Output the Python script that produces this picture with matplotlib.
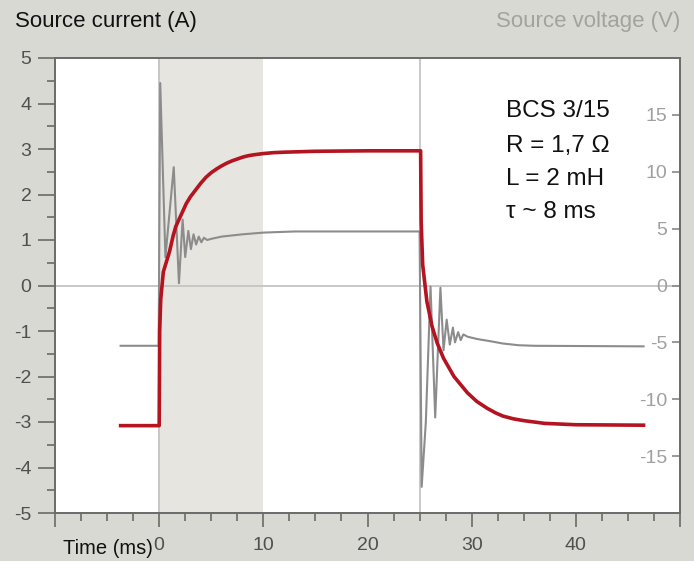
import matplotlib
matplotlib.use("Agg")
import matplotlib.pyplot as plt
from matplotlib.ticker import MultipleLocator, FixedLocator

plt.rcParams['font.family'] = ['Liberation Sans', 'DejaVu Sans']
plt.rcParams['axes.unicode_minus'] = False

# ---- data ----
# Source current (A)
t_cur = [-3.7, 0.0, 0.05, 0.15, 0.4, 0.8, 1.0, 1.35, 1.6, 1.9, 2.3, 2.6, 3.0, 3.5, 4.0, 4.5,
         5.0, 5.5, 6.0, 6.5, 7.0, 7.5, 8.0, 8.5, 9.0, 10.0, 11.0, 12.0, 15.0, 20.0,
         25.1, 25.15, 25.3, 25.7, 26.2, 26.7, 27.3, 28.3, 29.6, 30.5, 31.5, 32.3,
         33.0, 34.0, 35.0, 36.0, 37.0, 38.0, 40.0, 46.5]
i_cur = [-3.08, -3.08, -1.0, -0.3, 0.3, 0.6, 0.75, 1.1, 1.3, 1.45, 1.65, 1.8, 1.95, 2.1, 2.25, 2.38,
         2.48, 2.56, 2.63, 2.69, 2.74, 2.78, 2.82, 2.85, 2.87, 2.9, 2.92, 2.93, 2.95, 2.96,
         2.96, 1.4, 0.45, -0.35, -0.9, -1.27, -1.6, -2.0, -2.36, -2.55, -2.7, -2.8,
         -2.87, -2.93, -2.97, -3.0, -3.03, -3.04, -3.06, -3.07]

# Source voltage (V)
t_volt = [-3.7, -0.05, 0.1, 0.6, 1.4, 1.9, 2.25, 2.5, 2.8, 3.05, 3.3, 3.55, 3.8, 4.05, 4.3,
          4.6, 5.0, 6.0, 7.0, 8.0, 10.0, 13.0, 25.0, 25.2, 25.6, 26.05, 26.5, 27.0, 27.3, 27.6,
          27.9, 28.2, 28.4, 28.7, 28.95, 29.2, 29.6, 30.5, 31.8, 33.0, 34.5, 36.0, 46.5]
v_volt = [-5.3, -5.3, 17.8, 2.5, 10.4, 0.2, 5.8, 2.5, 4.8, 3.2, 4.5, 3.6, 4.3, 3.8, 4.2,
          4.0, 4.1, 4.3, 4.4, 4.5, 4.65, 4.75, 4.75, -17.7, -12.0, -0.1, -11.6, -0.2, -5.7, -3.0,
          -5.2, -3.7, -5.0, -4.1, -4.8, -4.3, -4.5, -4.7, -4.9, -5.1, -5.25, -5.3, -5.35]

shade_span = (0, 10)
ref_times = [0, 25]
x_major = [-10, 0, 10, 20, 30, 40, 50]
x_labels = ['', '0', '10', '20', '30', '40', '']
v_ticks = [-15, -10, -5, 0, 5, 10, 15]
info_lines = ["BCS 3/15", "R = 1,7 \u03a9", "L = 2 mH", "\u03c4 ~ 8 ms"]

# ---- figure ----
BG = '#d9d9d4'
SPINE = '#6a6a6a'
fig = plt.figure(figsize=(6.94, 5.61), dpi=100, facecolor=BG)
ax = fig.add_axes([55/694, 48/561, 625/694, 455/561])
ax2 = ax.twinx()

# put current axes on top
ax.set_zorder(ax2.get_zorder() + 1)
ax.patch.set_visible(False)
ax2.patch.set_visible(True)
ax2.patch.set_facecolor('white')

ax.set_xlim(-10, 50)
ax.set_ylim(-5, 5)
ax2.set_ylim(-20, 20)

# background elements on ax2
ax2.axvspan(*shade_span, color='#e6e5e0', lw=0, zorder=0)
for tr in ref_times:
    ax2.axvline(tr, color='#c4c4c4', lw=1.3, zorder=1)
ax2.axhline(0, color='#c4c4c4', lw=1.3, zorder=1)

ax2.plot(t_volt, v_volt, color='#8c8c8c', lw=1.5, zorder=3)
ax.plot(t_cur, i_cur, color='#b3141f', lw=2.6, zorder=4, solid_joinstyle='round')

# spines
for a in (ax, ax2):
    for s in a.spines.values():
        s.set_color(SPINE)
        s.set_linewidth(1.2)

# left axis ticks
ax.yaxis.set_major_locator(MultipleLocator(1))
ax.yaxis.set_minor_locator(MultipleLocator(0.5))
ax.tick_params(axis='y', which='major', direction='out', length=12, width=1.2,
               color=SPINE, labelsize=14, labelcolor='#505050', pad=5)
ax.tick_params(axis='y', which='minor', direction='out', length=6, width=1.2, color=SPINE)

# bottom axis ticks
ax.xaxis.set_major_locator(FixedLocator(x_major))
ax.set_xticklabels(x_labels)
ax.xaxis.set_minor_locator(MultipleLocator(2.5))
ax.tick_params(axis='x', which='major', direction='out', length=10, width=1.2,
               color=SPINE, labelsize=14, labelcolor='#505050', pad=7)
ax.tick_params(axis='x', which='minor', direction='out', length=5.5, width=1.2, color=SPINE)

# right axis ticks (inside)
ax2.yaxis.set_major_locator(FixedLocator(v_ticks))
ax2.tick_params(axis='y', which='major', direction='in', length=5.5, width=1.2,
                color='#888888', labelsize=14, labelcolor='#a0a0a0', pad=-9)
for lbl in ax2.get_yticklabels():
    lbl.set_horizontalalignment('right')

# titles
fig.text(15/694, 1 - 22/561, "Source current (A)", fontsize=16, color='#111111',
         ha='left', va='center')
fig.text(680/694, 1 - 22/561, "Source voltage (V)", fontsize=16, color='#a3a39d',
         ha='right', va='center')
fig.text(153/694, 1 - 548/561, "Time (ms)", fontsize=14.5, color='#111111',
         ha='right', va='center')

# info block
info_y = [3.7, 2.93, 2.21, 1.48]
for txt, yy in zip(info_lines, info_y):
    ax.text(33.3, yy, txt, fontsize=17.5, color='#111111', ha='left', va='baseline')

fig.savefig('out.png', dpi=100, facecolor=BG)
